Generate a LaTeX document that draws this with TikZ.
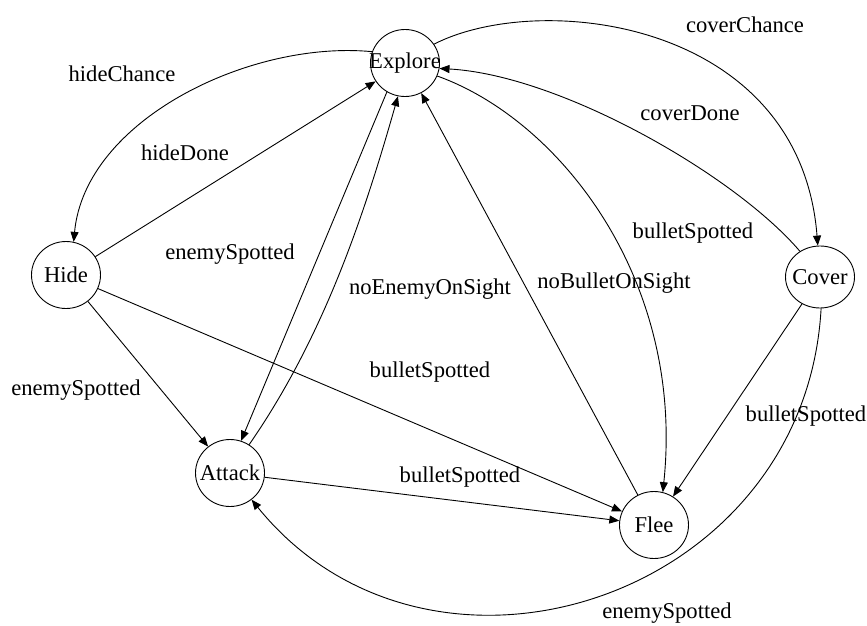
\documentclass[tikz,border=0pt]{standalone}
\usepackage{fontspec}
\setmainfont{Liberation Serif}
\usetikzlibrary{arrows.meta,shapes.geometric}
\newcommand\zw[1]{\makebox[0pt]{#1}}
\begin{document}
\begin{tikzpicture}[x=1pt,y=-1pt,
  state/.style={draw, ellipse, line width=0.9pt, inner sep=0pt, minimum width=69pt, minimum height=67pt, font=\fontsize{22.6}{27}\selectfont},
  lbl/.style={font=\fontsize{22.6}{27}\selectfont, inner sep=0pt},
  trans/.style={line width=0.9pt, -{Triangle[length=10pt,width=8pt]}}
]
\useasboundingbox (0,0) rectangle (867,626);
\node[state] (Explore) at (405,63) {\zw{Explore}};
\node[state] (Hide) at (66,275) {\zw{Hide}};
\node[state, minimum height=62pt] (Cover) at (820,277) {\zw{Cover}};
\node[state] (Attack) at (230,473) {\zw{Attack}};
\node[state] (Flee) at (654,525) {\zw{Flee}};

\draw[trans] (Explore.161) .. controls (250,40) and (85,120) .. (Hide.77);
\draw[trans] (Hide) -- (Explore);
\draw[trans] (Explore.238) -- (Attack.71);
\draw[trans] (Attack.56) .. controls (323,338) and (363,219) .. (Explore.258);
\draw[trans] (Explore.338) .. controls (560,120) and (685,280) .. (Flee.75);
\draw[trans] (Flee) -- (Explore);
\draw[trans] (Explore.33) .. controls (540,-10) and (800,20) .. (Cover.94);
\draw[trans] (Cover.128) .. controls (735,175) and (560,75) .. (Explore.351);
\draw[trans] (Hide) -- (Attack);
\draw[trans] (Hide) -- (Flee);
\draw[trans] (Attack) -- (Flee);
\draw[trans] (Cover) -- (Flee);
\draw[trans] (Cover.272) .. controls (805,600) and (430,720) .. (Attack.309);

\node[lbl] (l1) at (122,74) {hideChance};
\node[lbl] (l2) at (185,153) {hideDone};
\node[lbl] (l3) at (230,254) {enemySpotted};
\node[lbl] (l4) at (430,289) {noEnemyOnSight};
\node[lbl] (l5) at (693,233) {bulletSpotted};
\node[lbl] (l6) at (614,283) {noBulletOnSight};
\node[lbl] (l7) at (745,25) {coverChance};
\node[lbl] (l8) at (690,113) {coverDone};
\node[lbl] (l9) at (76,390) {enemySpotted};
\node[lbl] (l10) at (430,372) {bulletSpotted};
\node[lbl] (l11) at (460,477) {bulletSpotted};
\node[lbl] (l12) at (806,416) {bulletSpotted};
\node[lbl] (l13) at (667,613) {enemySpotted};
\end{tikzpicture}
\end{document}
